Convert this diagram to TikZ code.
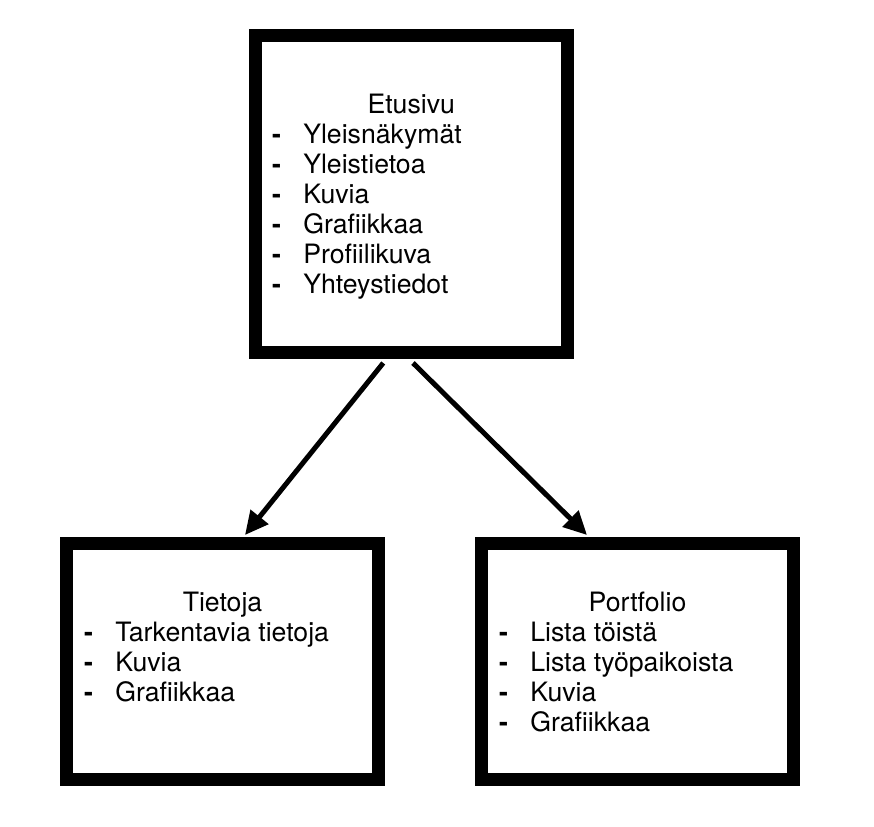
\documentclass[tikz,border=0pt]{standalone}
\usepackage{fontspec}
\setmainfont{TeX Gyre Heros}
\usetikzlibrary{arrows.meta,calc}
\newcommand{\itm}{\makebox[23.4pt][l]{\textbf{-}}}
\begin{document}
\begin{tikzpicture}[x=.75pt,y=-.75pt,
  page/.style={draw,line width=9.75pt,minimum width=234pt,minimum height=#1,inner sep=0pt},
  title/.style={anchor=base,inner sep=0pt,font=\fontsize{20}{22.5}\selectfont},
  items/.style={anchor=base west,align=left,inner sep=0pt,font=\fontsize{20}{22.5}\selectfont},
  link/.style={line width=3.75pt,-{Triangle[length=17.5pt,width=16.5pt]}}]
\useasboundingbox (0,0) rectangle (874,826);
\node[page=238.1pt] (etusivu) at (411.25,194.25) {};
\node[page=177pt] (tietoja) at (222.5,661.5) {};
\node[page=177pt] (portfolio) at (637.5,661.5) {};
\node[title] (etusivu-title) at (411.25,113) {Etusivu};
\node[items] (etusivu-list) at (271.8,293) {\itm Yleisnäkymät\\\itm Yleistietoa\\\itm Kuvia\\\itm Grafiikkaa\\\itm Profiilikuva\\\itm Yhteystiedot};
\node[title] (tietoja-title) at (222.5,611) {Tietoja};
\node[items] (tietoja-list) at (83.8,701) {\itm Tarkentavia tietoja\\\itm Kuvia\\\itm Grafiikkaa};
\node[title] (portfolio-title) at (637.5,611) {Portfolio};
\node[items] (portfolio-list) at (498.8,731) {\itm Lista töistä\\\itm Lista työpaikoista\\\itm Kuvia\\\itm Grafiikkaa};
\draw[link] ($(etusivu.south)+(-28,3.5)$) -- ($(tietoja.north)+(22.5,-2)$);
\draw[link] ($(etusivu.south)+(1.75,3.5)$) -- ($(portfolio.north)+(-50.5,-2)$);
\end{tikzpicture}
\end{document}
